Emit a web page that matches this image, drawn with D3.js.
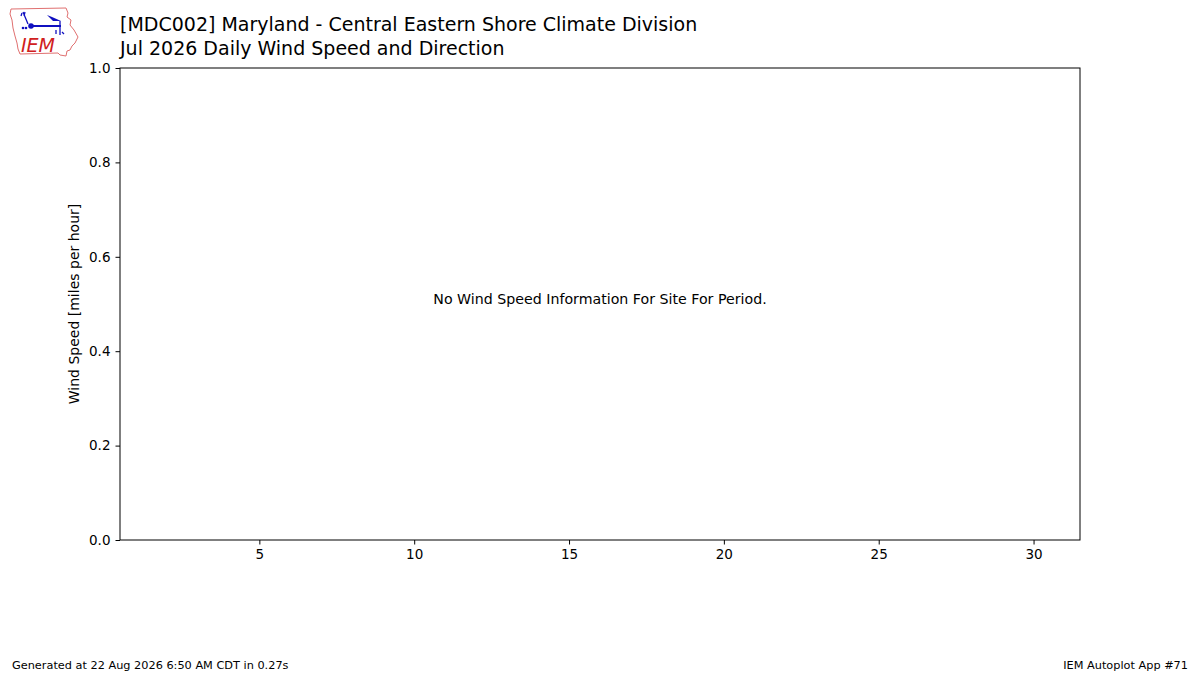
<!DOCTYPE html>
<html><head><meta charset="utf-8">
<script src="https://cdn.jsdelivr.net/npm/d3@7"></script>
<style>body{margin:0;background:#fff}svg{display:block}text{font-family:"DejaVu Sans",sans-serif}</style>
</head><body>
<svg id="c" width="1200" height="675"></svg>
<script>
const titleLines = ["[MDC002] Maryland - Central Eastern Shore Climate Division", "Jul 2026 Daily Wind Speed and Direction"];
const xDomain = [0.5, 31.5];
const xTicks = [5, 10, 15, 20, 25, 30];
const yDomain = [0, 1];
const yTicks = [0, 0.2, 0.4, 0.6, 0.8, 1.0];
const yLabel = "Wind Speed [miles per hour]";
const message = "No Wind Speed Information For Site For Period.";
const footerLeft = "Generated at 22 Aug 2026 6:50 AM CDT in 0.27s";
const footerRight = "IEM Autoplot App #71";

const svg = d3.select("#c");
const L = 120, R = 1080, T = 68, B = 540;
const x = d3.scaleLinear().domain(xDomain).range([L, R]);
const y = d3.scaleLinear().domain(yDomain).range([B, T]);

// Logo
const logo = svg.append("g");
logo.append("path").attr("d","M11,9 L66,8 L68,13 L67,17 L71,20 L70,25 L74,30 L78,37 L75,43 L72,46 L70,50 L67,51 L66,56 L60,55 L58,53 L20,54 L18,49 L17,43 L15,36 L13,28 L12,20 L10,14 Z")
  .attr("fill","none").attr("stroke","#e07070").attr("stroke-width",1);
logo.append("text").attr("x",21).attr("y",52).attr("fill","#d02020").attr("font-family","'Liberation Serif',serif").attr("font-style","italic").attr("font-size",19).text("IEM");
logo.append("line").attr("x1",31).attr("y1",26).attr("x2",61).attr("y2",26).attr("stroke","#1010c0").attr("stroke-width",2);
logo.append("circle").attr("cx",31).attr("cy",26).attr("r",2.8).attr("fill","#1010c0");
logo.append("path").attr("d","M47,15 L52,17 L61,21 L53,21 Z").attr("fill","#1010c0");
logo.append("path").attr("d","M23,12 L28,24 M22,13 L21,16 M25,12 L24,16").attr("stroke","#1010c0").attr("stroke-width",1.3).attr("fill","none");
logo.append("path").attr("d","M60,21 L60,35 M56,30 L56,34 M62,32 L64,34").attr("stroke","#1010c0").attr("stroke-width",1.3).attr("fill","none");
logo.append("circle").attr("cx",23).attr("cy",28).attr("r",1.3).attr("fill","#1010c0");
logo.append("circle").attr("cx",26).attr("cy",28).attr("r",1.3).attr("fill","#1010c0");

// Title
svg.selectAll("text.title").data(titleLines).enter().append("text").attr("class","title")
  .attr("x",120).attr("y",(d,i)=>31+i*24).attr("font-size",19).attr("fill","#000").text(d=>d);

// Axes
const xAxis = d3.axisBottom(x).tickValues(xTicks).tickSize(4.5).tickPadding(5).tickFormat(d3.format("d"));
const yAxis = d3.axisLeft(y).tickValues(yTicks).tickSize(4.5).tickPadding(5).tickFormat(d3.format(".1f"));
const gx = svg.append("g").attr("transform",`translate(0,${B})`).call(xAxis);
const gy = svg.append("g").attr("transform",`translate(${L},0)`).call(yAxis);
[gx, gy].forEach(g=>{
  g.select(".domain").remove();
  g.selectAll(".tick line").attr("stroke","#000").attr("stroke-width",1);
  g.selectAll(".tick text").attr("font-size",13.5).attr("fill","#000").attr("font-family","'DejaVu Sans',sans-serif");
});
svg.append("rect").attr("x",L).attr("y",T).attr("width",R-L).attr("height",B-T).attr("fill","none").attr("stroke","#000").attr("stroke-width",1);

svg.append("text").attr("transform",`translate(79,${(T+B)/2}) rotate(-90)`).attr("text-anchor","middle")
  .attr("font-size",14).text(yLabel);

svg.append("text").attr("x",(L+R)/2).attr("y",304).attr("text-anchor","middle").attr("font-size",14.2).text(message);

svg.append("text").attr("x",12).attr("y",669).attr("font-size",11.3).text(footerLeft);
svg.append("text").attr("x",1188).attr("y",669).attr("text-anchor","end").attr("font-size",11.3).text(footerRight);
</script>
</body></html>
